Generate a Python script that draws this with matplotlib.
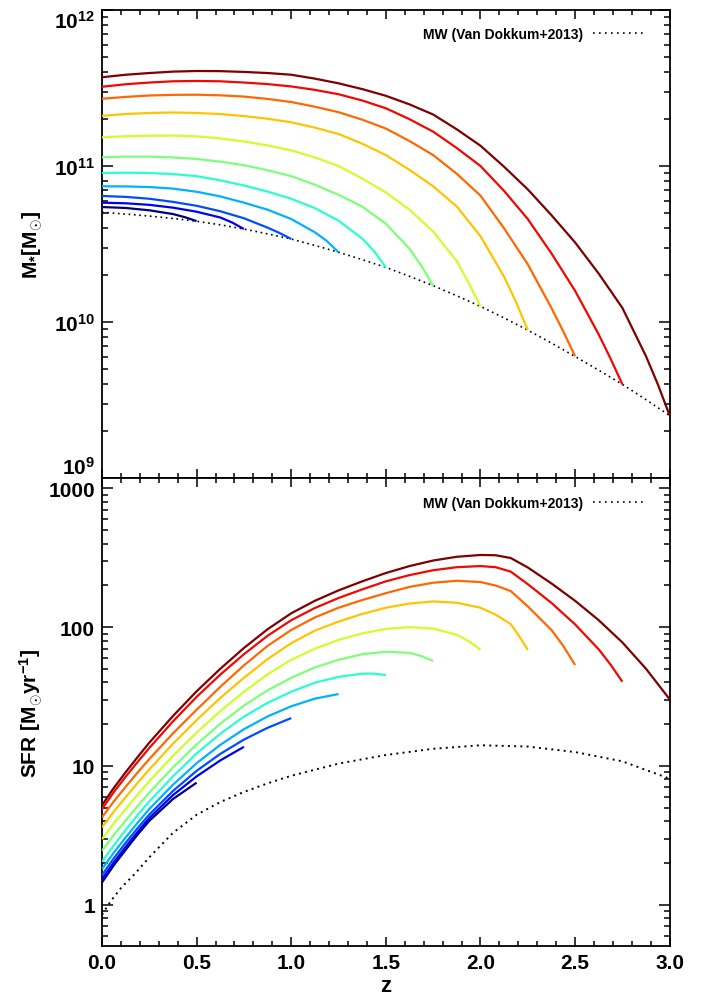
import numpy as np
import matplotlib
matplotlib.use('Agg')
import matplotlib.pyplot as plt
from matplotlib.ticker import LogLocator, MultipleLocator, NullFormatter, FixedLocator, FixedFormatter
from matplotlib.lines import Line2D

plt.rcParams['font.family'] = ['Liberation Sans', 'DejaVu Sans']
plt.rcParams['font.weight'] = 'bold'
plt.rcParams['mathtext.fontset'] = 'custom'
plt.rcParams['mathtext.rm'] = 'Liberation Sans:bold'
plt.rcParams['mathtext.bf'] = 'Liberation Sans:bold'
plt.rcParams['mathtext.it'] = 'Liberation Sans:bold'

# ---------------- data ----------------
# redshift at which each progenitor track ends (joins the MW curve)
end_redshift = [0.5, 0.75, 1.0, 1.25, 1.5, 1.75, 2.0, 2.25, 2.5, 2.75, 3.0]

# Milky-Way (van Dokkum+2013) stellar mass, log10(M*/Msun)
mw_mass_z = [0, 0.125, 0.25, 0.375, 0.5, 0.625, 0.75, 0.875, 1.0, 1.125, 1.25, 1.375,
             1.5, 1.625, 1.75, 1.875, 2.0, 2.125, 2.25, 2.375, 2.5, 2.625, 2.75, 2.875, 3.0]
mw_mass_log = [10.703, 10.692, 10.679, 10.664, 10.646, 10.623, 10.596, 10.565, 10.532,
               10.491, 10.447, 10.40, 10.35, 10.293, 10.233, 10.168, 10.10, 10.026,
               9.948, 9.865, 9.779, 9.691, 9.60, 9.502, 9.40]

# Milky-Way SFR [Msun/yr]
mw_sfr_z = [0, 0.025, 0.05, 0.1, 0.175, 0.25, 0.375, 0.5, 0.625, 0.75, 0.875, 1.0,
            1.25, 1.5, 1.75, 2.0, 2.25, 2.5, 2.75, 3.0]
mw_sfr = [0.85, 0.96, 1.08, 1.32, 1.68, 2.2, 3.3, 4.45, 5.5, 6.5, 7.5, 8.5,
          10.4, 12.0, 13.3, 14.1, 13.8, 12.6, 10.8, 8.1]

# stellar-mass tracks, log10(M*/Msun)
mstar_z = [
    [0, 0.125, 0.25, 0.375, 0.4375, 0.5],
    [0, 0.125, 0.25, 0.375, 0.5, 0.625, 0.6875, 0.75],
    [0, 0.125, 0.25, 0.375, 0.5, 0.625, 0.75, 0.875, 0.9375, 1.0],
    [0, 0.125, 0.25, 0.375, 0.5, 0.625, 0.75, 0.875, 1.0, 1.125, 1.1875, 1.25],
    [0, 0.125, 0.25, 0.375, 0.5, 0.625, 0.75, 0.875, 1.0, 1.125, 1.25, 1.375, 1.4375, 1.5],
    [0, 0.125, 0.25, 0.375, 0.5, 0.625, 0.75, 0.875, 1.0, 1.125, 1.25, 1.375, 1.5,
     1.625, 1.6875, 1.75],
    [0, 0.125, 0.25, 0.375, 0.5, 0.625, 0.75, 0.875, 1.0, 1.125, 1.25, 1.375, 1.5,
     1.625, 1.75, 1.875, 1.9375, 2.0],
    [0, 0.125, 0.25, 0.375, 0.5, 0.625, 0.75, 0.875, 1.0, 1.125, 1.25, 1.375, 1.5,
     1.625, 1.75, 1.875, 2.0, 2.125, 2.1875, 2.25],
    [0, 0.125, 0.25, 0.375, 0.5, 0.625, 0.75, 0.875, 1.0, 1.125, 1.25, 1.375, 1.5,
     1.625, 1.75, 1.875, 2.0, 2.125, 2.25, 2.375, 2.4375, 2.5],
    [0, 0.125, 0.25, 0.375, 0.5, 0.625, 0.75, 0.875, 1.0, 1.125, 1.25, 1.375, 1.5,
     1.625, 1.75, 1.875, 2.0, 2.125, 2.25, 2.375, 2.5, 2.625, 2.6875, 2.75],
    [0, 0.125, 0.25, 0.375, 0.5, 0.625, 0.75, 0.875, 1.0, 1.125, 1.25, 1.375, 1.5,
     1.625, 1.75, 1.875, 2.0, 2.125, 2.25, 2.375, 2.5, 2.625, 2.75, 2.875, 2.9375, 3.0],
]
mstar_log = [
    [10.737, 10.731, 10.716, 10.692, 10.672, 10.647],
    [10.765, 10.761, 10.751, 10.733, 10.707, 10.67, 10.638, 10.596],
    [10.808, 10.802, 10.79, 10.77, 10.745, 10.71, 10.665, 10.605, 10.571, 10.532],
    [10.870, 10.869, 10.865, 10.855, 10.835, 10.805, 10.765, 10.72, 10.66, 10.575,
     10.52, 10.447],
    [10.955, 10.957, 10.955, 10.948, 10.935, 10.908, 10.875, 10.836, 10.79, 10.73,
     10.65, 10.535, 10.455, 10.35],
    [11.056, 11.06, 11.06, 11.055, 11.045, 11.028, 11.005, 10.973, 10.935, 10.88,
     10.815, 10.74, 10.63, 10.47, 10.36, 10.233],
    [11.184, 11.191, 11.194, 11.195, 11.19, 11.177, 11.157, 11.132, 11.10, 11.055,
     11.00, 10.92, 10.83, 10.72, 10.58, 10.39, 10.25, 10.10],
    [11.322, 11.333, 11.34, 11.343, 11.34, 11.333, 11.32, 11.303, 11.28, 11.246,
     11.205, 11.143, 11.07, 10.975, 10.87, 10.74, 10.55, 10.29, 10.13, 9.948],
    [11.431, 11.443, 11.452, 11.456, 11.457, 11.453, 11.445, 11.43, 11.41, 11.38,
     11.345, 11.297, 11.24, 11.16, 11.07, 10.95, 10.81, 10.60, 10.37, 10.09, 9.94, 9.78],
    [11.508, 11.524, 11.535, 11.543, 11.545, 11.543, 11.535, 11.525, 11.51, 11.488,
     11.46, 11.42, 11.37, 11.30, 11.22, 11.115, 11.0, 10.84, 10.66, 10.44, 10.20,
     9.92, 9.765, 9.60],
    [11.569, 11.585, 11.596, 11.605, 11.609, 11.608, 11.603, 11.596, 11.585, 11.56,
     11.53, 11.493, 11.45, 11.395, 11.33, 11.235, 11.13, 10.995, 10.85, 10.685,
     10.51, 10.31, 10.09, 9.78, 9.60, 9.40],
]

# SFR tracks, log10(SFR / Msun yr^-1)
sfr_z = [
    [0, 0.0625, 0.125, 0.1875, 0.25, 0.375, 0.5],
    [0, 0.0625, 0.125, 0.1875, 0.25, 0.375, 0.5, 0.625, 0.75],
    [0, 0.0625, 0.125, 0.1875, 0.25, 0.375, 0.5, 0.625, 0.75, 0.875, 1.0],
    [0, 0.0625, 0.125, 0.1875, 0.25, 0.375, 0.5, 0.625, 0.75, 0.875, 1.0, 1.125, 1.25],
    [0, 0.0625, 0.125, 0.1875, 0.25, 0.375, 0.5, 0.625, 0.75, 0.875, 1.0, 1.125, 1.25,
     1.375, 1.4375, 1.5],
    [0, 0.0625, 0.125, 0.1875, 0.25, 0.375, 0.5, 0.625, 0.75, 0.875, 1.0, 1.125, 1.25,
     1.375, 1.5, 1.625, 1.6875, 1.75],
    [0, 0.0625, 0.125, 0.1875, 0.25, 0.375, 0.5, 0.625, 0.75, 0.875, 1.0, 1.125, 1.25,
     1.375, 1.5, 1.625, 1.75, 1.875, 1.9375, 2.0],
    [0, 0.0625, 0.125, 0.1875, 0.25, 0.375, 0.5, 0.625, 0.75, 0.875, 1.0, 1.125, 1.25,
     1.375, 1.5, 1.625, 1.75, 1.875, 2.0, 2.08, 2.16, 2.2, 2.25],
    [0, 0.0625, 0.125, 0.1875, 0.25, 0.375, 0.5, 0.625, 0.75, 0.875, 1.0, 1.125, 1.25,
     1.375, 1.5, 1.625, 1.75, 1.875, 2.0, 2.08, 2.16, 2.25, 2.375, 2.4375, 2.5],
    [0, 0.0625, 0.125, 0.1875, 0.25, 0.375, 0.5, 0.625, 0.75, 0.875, 1.0, 1.125, 1.25,
     1.375, 1.5, 1.625, 1.75, 1.875, 2.0, 2.08, 2.16, 2.25, 2.375, 2.5, 2.625, 2.6875, 2.75],
    [0, 0.0625, 0.125, 0.1875, 0.25, 0.375, 0.5, 0.625, 0.75, 0.875, 1.0, 1.125, 1.25,
     1.375, 1.5, 1.625, 1.75, 1.875, 2.0, 2.08, 2.16, 2.25, 2.375, 2.5, 2.625, 2.75,
     2.875, 3.0],
]
sfr_log = [
    [0.161, 0.285, 0.396, 0.505, 0.605, 0.762, 0.88],
    [0.185, 0.306, 0.417, 0.524, 0.625, 0.79, 0.925, 1.04, 1.138],
    [0.214, 0.335, 0.446, 0.551, 0.65, 0.82, 0.965, 1.087, 1.19, 1.275, 1.345],
    [0.257, 0.376, 0.485, 0.59, 0.69, 0.865, 1.02, 1.152, 1.265, 1.357, 1.43, 1.485, 1.518],
    [0.31, 0.428, 0.54, 0.645, 0.745, 0.925, 1.09, 1.232, 1.355, 1.455, 1.535, 1.60,
     1.642, 1.665, 1.665, 1.655],
    [0.389, 0.503, 0.607, 0.71, 0.808, 0.99, 1.155, 1.305, 1.435, 1.545, 1.635, 1.71,
     1.765, 1.805, 1.823, 1.815, 1.792, 1.756],
    [0.473, 0.587, 0.69, 0.792, 0.89, 1.073, 1.24, 1.395, 1.535, 1.66, 1.765, 1.845,
     1.908, 1.955, 1.988, 2.0, 1.99, 1.945, 1.90, 1.837],
    [0.558, 0.672, 0.775, 0.877, 0.975, 1.16, 1.33, 1.49, 1.635, 1.77, 1.885, 1.975,
     2.04, 2.095, 2.14, 2.17, 2.185, 2.176, 2.14, 2.09, 2.022, 1.945, 1.837],
    [0.63, 0.745, 0.85, 0.952, 1.05, 1.235, 1.405, 1.57, 1.725, 1.865, 1.98, 2.07,
     2.14, 2.195, 2.245, 2.29, 2.32, 2.334, 2.325, 2.30, 2.26, 2.15, 1.98, 1.865, 1.727],
    [0.69, 0.812, 0.923, 1.028, 1.13, 1.321, 1.498, 1.658, 1.805, 1.938, 2.05, 2.138,
     2.21, 2.272, 2.33, 2.375, 2.41, 2.432, 2.44, 2.432, 2.40, 2.31, 2.175, 2.02, 1.84,
     1.73, 1.607],
    [0.718, 0.842, 0.955, 1.063, 1.168, 1.36, 1.538, 1.70, 1.85, 1.985, 2.10, 2.19,
     2.265, 2.33, 2.39, 2.44, 2.48, 2.507, 2.52, 2.518, 2.498, 2.43, 2.315, 2.19, 2.05,
     1.89, 1.70, 1.48],
]

legend_label = 'MW (Van Dokkum+2013)'
mass_ticks = [1e9, 1e10, 1e11, 1e12]
mass_ticklabels = [r'$\mathbf{10^{9}}$', r'$\mathbf{10^{10}}$', r'$\mathbf{10^{11}}$', r'$\mathbf{10^{12}}$']
sfr_ticks = [1, 10, 100, 1000]
sfr_ticklabels = ['1', '10', '100', '1000']
z_ticks = [0.0, 0.5, 1.0, 1.5, 2.0, 2.5, 3.0]
z_ticklabels = ['0.0', '0.5', '1.0', '1.5', '2.0', '2.5', '3.0']

# ---------------- figure ----------------
W, H = 711, 1003
fig = plt.figure(figsize=(W / 100, H / 100), dpi=100)
left, right = 102 / W, 669.7 / W
ax1 = fig.add_axes([left, 1 - 479 / H, right - left, 468 / H])
ax2 = fig.add_axes([left, 1 - 947 / H, right - left, 468 / H])

colors = plt.cm.jet(np.linspace(0, 1, len(end_redshift)))
dot_style = (0, (1.0, 2.2))

ax1.plot(mw_mass_z, 10 ** np.array(mw_mass_log), color='black', lw=1.2,
         linestyle=dot_style, zorder=2)
for i in range(len(end_redshift)):
    ax1.plot(mstar_z[i], 10 ** np.array(mstar_log[i]), color=colors[i], lw=1.6,
             solid_capstyle='butt', solid_joinstyle='round', zorder=3)

ax2.plot(mw_sfr_z, mw_sfr, color='black', lw=1.4, linestyle=dot_style, zorder=2)
for i in range(len(end_redshift)):
    ax2.plot(sfr_z[i], 10 ** np.array(sfr_log[i]), color=colors[i], lw=1.6,
             solid_capstyle='butt', solid_joinstyle='round', zorder=3)

ax1.set_yscale('log')
ax2.set_yscale('log')
ax1.set_ylim(1e9, 1e12)
ax2.set_ylim(0.505, 1187)
for ax in (ax1, ax2):
    ax.set_xlim(0, 3)
    ax.xaxis.set_major_locator(FixedLocator(z_ticks))
    ax.xaxis.set_minor_locator(MultipleLocator(0.1))
    ax.yaxis.set_minor_locator(LogLocator(base=10, subs=np.arange(2, 10)))
    ax.yaxis.set_minor_formatter(NullFormatter())
    ax.tick_params(axis='both', which='both', direction='in', top=True, right=True,
                   width=1.1, labelsize=15, pad=5)
    ax.tick_params(axis='x', which='major', length=6.5)
    ax.tick_params(axis='x', which='minor', length=3.5)
    ax.tick_params(axis='y', which='major', length=8)
    ax.tick_params(axis='y', which='minor', length=4.3)
    for sp in ax.spines.values():
        sp.set_linewidth(1.3)

ax1.yaxis.set_major_locator(FixedLocator(mass_ticks))
ax1.yaxis.set_major_formatter(FixedFormatter(mass_ticklabels))
ax1.tick_params(axis='x', labelbottom=False)
ax2.yaxis.set_major_locator(FixedLocator(sfr_ticks))
ax2.yaxis.set_major_formatter(FixedFormatter(sfr_ticklabels))
ax2.xaxis.set_major_formatter(FixedFormatter(z_ticklabels))

fig.canvas.draw()
labs = ax1.get_yticklabels()
labs[0].set_va('bottom')
labs[-1].set_va('top')

ax1.set_ylabel(r'$\mathbf{M_{*}[M_{\odot}]}$', fontsize=15, labelpad=10)
ax2.set_ylabel(r'$\mathbf{SFR\ [M_{\odot}yr^{-1}]}$', fontsize=15, labelpad=8)
ax2.set_xlabel('z', fontsize=16, fontweight='bold', labelpad=2)
ax1.yaxis.set_label_coords(-0.100, 0.5)
ax2.yaxis.set_label_coords(-0.100, 0.5)

for ax, yc in ((ax1, 1 - 24 / 468), (ax2, 1 - 25 / 468)):
    h = Line2D([], [], color='black', lw=1.2, linestyle=(0, (1.0, 2.6)))
    ax.legend([h], [legend_label], loc='center right', bbox_to_anchor=(0.958, yc),
              frameon=False, markerfirst=False, handlelength=3.8, handletextpad=0.75,
              borderpad=0, borderaxespad=0, prop={'weight': 'bold', 'size': 10})

fig.savefig('out.png', dpi=100)
